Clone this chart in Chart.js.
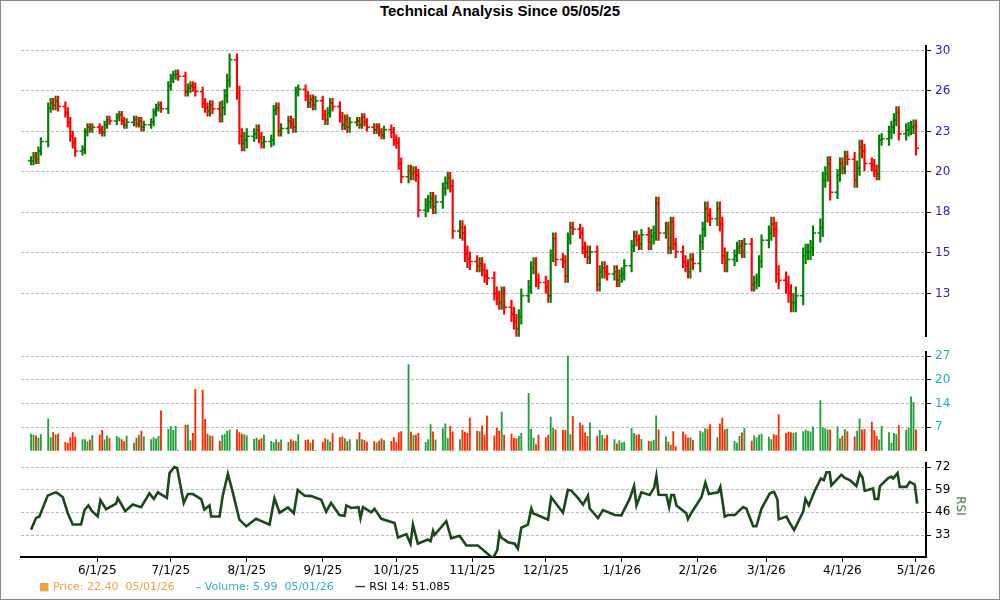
<!DOCTYPE html>
<html><head><meta charset="utf-8">
<script src="https://cdn.jsdelivr.net/npm/chart.js@4"></script>
<style>
body{margin:0;background:#fff;}
#wrap{position:relative;width:998px;height:598px;border:1px solid #888;overflow:hidden;font-family:"DejaVu Sans",sans-serif;}
canvas{position:absolute;left:0;}
#title{position:absolute;top:1px;left:0;width:998px;text-align:center;font:bold 15px "Liberation Sans",Arial,sans-serif;}
#legend{position:absolute;top:579px;left:38px;font-size:11px;white-space:pre;}
#rsit{position:absolute;left:950px;top:498px;transform:rotate(90deg);font-size:12px;color:#336633;}
</style></head><body>
<div id="wrap">
<div id="title">Technical Analysis Since 05/05/25</div>
<canvas id="cp" width="998" height="347" style="top:0"></canvas>
<canvas id="cv" width="998" height="121" style="top:340px"></canvas>
<canvas id="cr" width="998" height="129" style="top:451px"></canvas>
<div id="rsit">RSI</div>
<div id="legend"><span style="color:#f0a040">&#9632; Price: 22.40  05/01/26</span>      <span style="color:#30b0c0">&#8211; Volume: 5.99  05/01/26</span>      <span style="color:#1a4a1a;font-weight:bold">&#8212;</span> <span>RSI 14: 51.085</span></div>
</div>
<script>
// trading day closes (5 per week, starting Mon 5/5/25)
const closes=[
20.5,20.8,20.6,21.2,21.9, 24.6,25.0,24.8,25.2,24.7, 24.2,23.4,22.3,21.8,21.2, 21.3,22.6,23.0,22.9,23.0,
22.8,22.6,23.2,23.6,23.5, 23.8,24.0,23.5,23.2,23.4, 23.6,23.3,23.5,23.0,23.2, 23.4,24.2,24.6,24.8,24.5,
26.5,27.2,27.5,27.6,27.4, 26.0,26.3,26.5,26.4,26.0, 25.0,24.6,24.3,24.8,24.5, 24.0,24.6,25.6,27.0,29.0,
25.9,22.3,21.8,22.0,22.3, 22.5,22.8,22.2,21.8,21.9, 22.0,24.4,24.6,22.7,22.9, 23.5,23.3,23.0,26.0,26.2,
25.6,25.0,25.3,24.8,25.2, 24.0,23.6,24.2,25.0,24.7, 23.8,23.2,23.6,23.0,23.4, 23.5,23.2,23.8,23.4,23.0,
22.8,23.0,22.6,22.4,22.8, 22.6,22.0,21.8,20.3,19.4, 19.8,19.6,19.7,19.5,17.3, 17.6,17.8,18.0,17.5,17.8,
18.6,19.0,19.3,18.8,16.1, 16.3,16.0,14.9,14.6,14.5, 14.3,14.4,14.1,13.8,13.7, 13.0,12.8,12.6,13.0,12.4,
12.1,11.8,11.5,12.0,12.9, 13.3,14.2,14.4,13.6,13.5, 13.3,12.9,14.8,15.7,14.6, 14.5,13.8,15.7,16.3,16.2,
16.0,15.2,15.0,14.7,15.0, 13.4,14.0,14.2,14.0,13.9, 14.0,13.6,13.8,13.9,14.3, 15.3,15.8,15.6,15.4,15.9,
15.5,15.8,16.0,17.7,16.0, 16.3,15.2,16.6,15.4,15.0, 14.5,14.3,14.0,14.6,14.4, 15.5,16.2,17.4,17.0,16.8,
17.4,16.5,14.8,14.4,14.6, 14.8,15.2,15.3,15.0,15.4, 13.4,13.5,13.6,14.5,15.6, 16.0,16.5,16.2,13.9,13.6,
13.4,13.0,12.6,12.6,12.9, 14.8,15.0,15.0,15.2,16.0, 16.3,19.2,19.6,20.3,18.4, 19.5,20.3,20.0,20.8,20.6,
19.2,20.0,21.5,21.2,20.3, 20.2,19.8,19.6,22.0,22.1, 22.6,23.0,23.6,24.2,22.5, 22.8,22.9,23.0,23.1,21.4];
// weekly typical wick extension beyond open/close
const wickExt=[0.3,0.4,0.4,0.3,0.3,0.3,0.3,0.3,0.4,0.4,0.4,0.6,0.6,0.4,0.4,0.4,0.4,0.4,0.4,0.3,
0.3,0.4,0.4,0.4,0.4,0.4,0.3,0.3,0.3,0.3,0.3,0.3,0.3,0.3,0.3,0.3,0.4,0.3,0.3,0.4,
0.4,0.3,0.3,0.4,0.4,0.4,0.5,0.4,0.5,0.4,0.5,0.5];
const volumes=[
4.8,4.5,4.3,3.6,4.6, 9.1,3.8,5.2,4.6,4.8, 2.4,2.1,3.8,5.2,3.9, 3.2,3.2,2.6,3.1,4.4,
4.5,5.8,3.1,4.3,3.5, 4.1,3.7,3.2,2.6,4.2, 2.2,3.6,4.4,5.6,4.0, 3.2,3.8,3.4,4.1,11.4,
6.1,6.9,5.8,7.0,0.1, 7.3,7.3,2.9,5.0,17.5, 17.3,9.0,4.8,4.3,4.2, 2.8,4.4,4.8,5.6,5.9,
6.0,5.2,4.8,4.6,4.3, 3.3,3.6,3.1,3.5,4.5, 2.7,2.3,3.2,2.4,3.1, 2.4,3.2,2.7,2.6,4.6,
3.0,3.1,2.3,3.1,0.1, 2.5,3.4,3.1,2.5,4.9, 3.8,4.0,3.5,2.6,3.2, 3.2,5.2,3.2,3.0,2.5,
2.6,2.3,2.8,3.4,2.9, 2.7,3.8,2.4,5.2,5.5, 24.6,5.3,4.4,4.5,5.0, 2.4,3.2,7.5,5.4,3.1,
6.3,7.7,3.5,7.0,5.4, 3.2,5.8,5.3,5.0,9.3, 5.6,5.5,7.1,4.5,10.0, 4.3,6.5,5.6,11.0,4.5,
4.8,3.6,3.5,4.1,5.0, 16.4,6.2,3.6,1.8,4.5, 3.8,4.4,9.6,6.4,6.0, 5.9,5.8,27,4.6,9.8,
8.0,7.2,5.1,4.1,8.0, 4.2,5.8,4.4,3.4,4.5, 3.2,2.0,2.9,2.3,2.5, 6.3,5.0,4.5,4.6,3.3,
2.8,2.6,3.0,10.0,6.0, 4.0,2.5,1.6,5.5,1.2, 5.4,4.6,3.7,3.7,3.0, 5.6,5.2,6.3,6.2,7.5,
3.8,7.7,9.3,6.0,6.2, 2.7,2.2,4.1,5.1,6.4, 2.8,4.3,3.7,4.5,4.8, 3.9,3.2,4.6,4.4,10.3,
5.0,5.3,5.2,5.0,5.2, 5.5,6.0,5.6,5.4,6.8, 14.3,6.5,6.3,6.0,6.0, 6.8,3.5,4.2,6.1,5.5,
4.0,5.6,9.1,6.0,6.1, 8.2,5.8,4.1,3.1,7.0, 5.2,2.3,5.0,4.6,7.2, 5.9,6.5,15.4,13.8,5.99];
const rsiDays=[0,2,3.4,6.8,10.2,12.9,15,17,20.4,21.8,23.4,24.8,27.2,28.3,30.6,34.7,35.4,36.7,38.4,41.5,44.9,48.3,50.1,51.7,55.4,56.5,58.5,59.6,62.3,64,66,69.4,70.7,72.8,73.5,76.9,78.2,80.3,82.3,85,87.8,91.8,97.3,99.3,101.4,104.8,107.2,108.8,111.6,114.3,118.4,120.4,122.4,125.8,127.9,128.6,130.6,133.6,134.4,135.4,138.8,140.1,142.9,148.3,149.7,153.1,154.8,155.8,157.8,161.9,163,164,164.6,169.4,171.4,174.8,177.6,182.3,188.4,190.2,191.1,191.8,194.6,197.3,198.6,200,202.7,204.1,204.8,210.9,212.2,214.3,217,219,220.4,223.1,225.2,227.2,227.9,231.3,233.3,238.1,240.8,244.2,246,247,249,252.4,254.2,255.1,256,259.2,260.3,261.2,262.3,263.3,267.3,268,269.4,273.5,275.1,276.5,280.3,281.2,283,284.4,287.1,290.5,291.8,294.6,295.9,298,301.4,303.1,304.5,305,308.2,309.5,311.3,315,315.9,317.3,319.7,322.2,323.4,324.5,325.8,326.5,330.6,332,334,336.7,338.1,339.2,340.1,343.5,344.2,345.6,346.3,349.7,351,351.7,353.5,354.4,357.1,358.5,360.5,361.5];
const rsiVals=[36,42.7,43.6,55.6,57.6,54.8,45.5,39,39,47.3,50,46.8,43.7,53,47.8,51,54.1,51,46.7,50.5,49,56.9,53.7,57.5,54.3,68.5,72,71.5,51.4,56.5,56.5,53.6,47.6,50,43.6,43.6,55.6,68.1,57.5,41.8,38,42.3,39,54.1,45.8,48.8,45.5,58.9,55.6,55.3,53.2,46.4,51.4,44.5,44,50,48.5,49,42.7,49,46,48,42.3,39.9,31.6,33.5,28,39,28,30.4,29.5,35.3,33,40.9,31.1,32.6,27,27,19.7,24.3,34,31.6,28.9,28,25.2,37.2,39,48.2,45.5,41.8,54.7,50.8,45.8,58.9,58.5,54.3,50.4,55.6,48.2,42.7,47.3,44.5,44.3,53.7,61.1,50,57.5,56,60.2,67,56.1,56,49.1,56,56,50,45.5,42.1,45.8,54.7,63,56.5,57.5,60.6,43.6,44.5,44.5,49.1,48.2,38,38,48.2,56.9,57.8,53.4,42.1,43.6,40,35.9,46.4,53.7,50,58.3,65.4,64.5,69,69,61.5,67.6,65.8,64.5,61.1,68.5,66,58.3,59.7,53.7,53.7,61.1,65.7,66.5,65.4,68.5,60.6,60.6,63.5,62,51];
const monthDays=[27,57,88,119,149,180,210,241,272,300,331,361];
const monthLabels=['6/1/25','7/1/25','8/1/25','9/1/25','10/1/25','11/1/25','12/1/25','1/1/26','2/1/26','3/1/26','4/1/26','5/1/26'];
const priceTicks=[13,14.94,17.17,19.73,22.67,26.05,29.94];
const priceLabels=['13','15','18','20','23','26','30'];
const volTicks=[6.75,13.5,20.25,27];
const volLabels=['7','14','20','27'];
const rsiTicks=[33,46,59,72];

const days=closes.map((c,i)=>7*Math.floor(i/5)+i%5);
const opens=closes.map((c,i)=>i?closes[i-1]:c);
const highs=closes.map((c,i)=>Math.max(c,opens[i])+wickExt[Math.floor(i/5)]);
const lows=closes.map((c,i)=>Math.min(c,opens[i])-wickExt[Math.floor(i/5)]);
const up=closes.map((c,i)=>c>=opens[i]);
const XMIN=-4.1,XMAX=365.1;
const font={family:'DejaVu Sans',size:12};
function yAxis(ticks,labels,color,extra){
 return Object.assign({position:'right',afterFit:s=>{s.width=73;},
  afterBuildTicks:s=>{s.ticks=ticks.map(v=>({value:v}));},
  ticks:{color:color,font:font,padding:4,callback:(v,i)=>labels?labels[i]:v},
  grid:{color:'#bbb',tickColor:'#000',tickLength:5},
  border:{display:true,color:'#000',width:2,dash:[3,2]}},extra);
}
const xHidden={type:'linear',min:XMIN,max:XMAX,display:false,offset:false};
const base={responsive:false,animation:false,plugins:{legend:{display:false},tooltip:{enabled:false}}};

const ohlc={id:'ohlc',afterDatasetsDraw(ch){
 const ctx=ch.ctx,xs=ch.scales.x,ys=ch.scales.y;ctx.save();ctx.lineWidth=1.5;
 closes.forEach((c,i)=>{const x=xs.getPixelForValue(days[i]);ctx.strokeStyle=up[i]?'#008000':'#ff0000';
  ctx.beginPath();let yo=ys.getPixelForValue(opens[i]);ctx.moveTo(x-3,yo);ctx.lineTo(x,yo);
  let yc=ys.getPixelForValue(c);ctx.moveTo(x,yc);ctx.lineTo(x+3,yc);ctx.stroke();});
 ctx.restore();}};

new Chart(document.getElementById('cp'),{type:'bar',
 data:{datasets:[{data:closes.map((c,i)=>({x:days[i],y:[lows[i],highs[i]]})),
  backgroundColor:up.map(u=>u?'#008000':'#ff0000'),barThickness:1.5,grouped:false}]},
 options:Object.assign({},base,{layout:{padding:{left:20,top:45,bottom:5,right:0}},
  scales:{x:xHidden,y:yAxis(priceTicks,priceLabels,'#2626b0',{type:'logarithmic',min:11.2,max:30.4})}}),
 plugins:[ohlc]});

new Chart(document.getElementById('cv'),{type:'bar',
 data:{datasets:[{data:volumes.map((v,i)=>({x:days[i],y:v})),
  backgroundColor:up.map(u=>u?'#22a03a':'#ff2a00'),barThickness:1.2,grouped:false}]},
 options:Object.assign({},base,{layout:{padding:{left:20,top:8,bottom:3,right:0}},
  scales:{x:xHidden,y:yAxis(volTicks,volLabels,'#20b0c0',{min:0,max:28.1})}})});

new Chart(document.getElementById('cr'),{type:'line',
 data:{datasets:[{data:rsiDays.map((d,i)=>({x:d,y:rsiVals[i]})),borderColor:'#1a4a1a',borderWidth:2.6,pointRadius:0,tension:0}]},
 options:Object.assign({},base,{layout:{padding:{left:20,top:0,bottom:0,right:0}},
  scales:{x:{type:'linear',min:XMIN,max:XMAX,afterFit:s=>{s.height=24;},
    afterBuildTicks:s=>{s.ticks=monthDays.map(v=>({value:v}));},
    ticks:{color:'#000',font:font,maxRotation:0,autoSkip:false,padding:2,callback:(v,i)=>monthLabels[i]},
    grid:{display:true,drawOnChartArea:false,tickColor:'#000',tickLength:5},border:{display:true,color:'#000',width:2}},
   y:yAxis(rsiTicks,null,'#000',{min:20.4,max:74.2})}})});
</script>
</body></html>
